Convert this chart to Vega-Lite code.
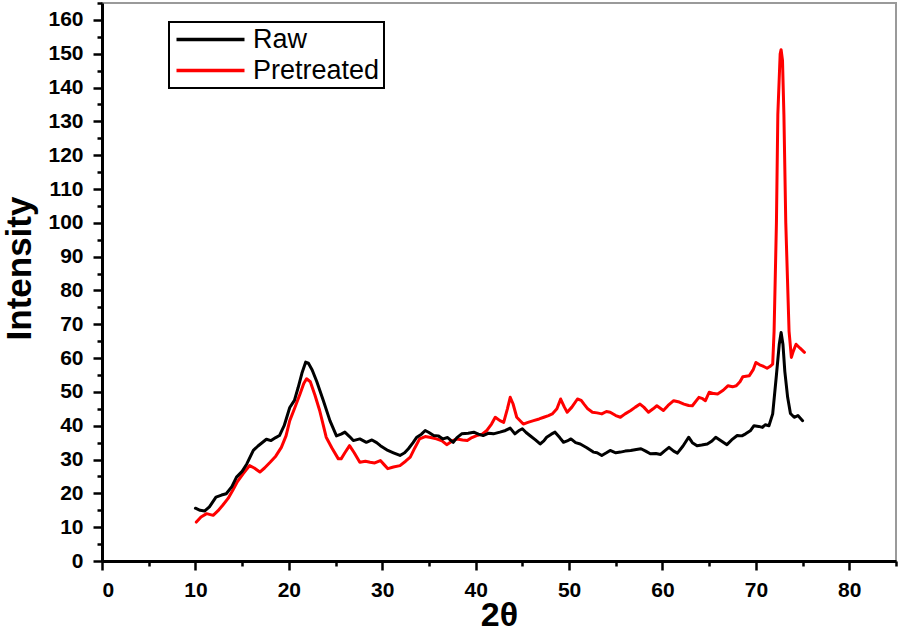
{
  "$schema": "https://vega.github.io/schema/vega-lite/v6.json",
  "width": 794,
  "height": 558,
  "autosize": {"type": "none"},
  "padding": {"left": 102, "top": 3, "right": 3, "bottom": 74},
  "config": {
    "view": {"stroke": "#9a9a9a", "strokeWidth": 2},
    "font": "Liberation Sans",
    "axis": {
      "grid": false,
      "domainColor": "#000000",
      "domainWidth": 3,
      "tickColor": "#000000",
      "tickWidth": 2.5,
      "tickSize": 9,
      "labelFont": "Liberation Sans",
      "labelFontWeight": "bold",
      "labelFontSize": 21,
      "labelColor": "#000000",
      "titleFont": "Liberation Sans",
      "titleFontWeight": "bold",
      "titleColor": "#000000",
      "zindex": 1
    }
  },
  "datasets": {
    "xrd": [
      {"t": 10.1, "i": 11.5, "s": "Pretreated"},
      {"t": 10.6, "i": 13.0, "s": "Pretreated"},
      {"t": 11.2, "i": 14.0, "s": "Pretreated"},
      {"t": 11.9, "i": 13.5, "s": "Pretreated"},
      {"t": 12.4, "i": 14.8, "s": "Pretreated"},
      {"t": 12.9, "i": 16.4, "s": "Pretreated"},
      {"t": 13.5, "i": 18.5, "s": "Pretreated"},
      {"t": 14.0, "i": 20.9, "s": "Pretreated"},
      {"t": 14.5, "i": 23.5, "s": "Pretreated"},
      {"t": 15.1, "i": 25.8, "s": "Pretreated"},
      {"t": 15.8, "i": 28.2, "s": "Pretreated"},
      {"t": 16.3, "i": 27.5, "s": "Pretreated"},
      {"t": 16.9, "i": 26.3, "s": "Pretreated"},
      {"t": 17.4, "i": 27.5, "s": "Pretreated"},
      {"t": 18.0, "i": 29.2, "s": "Pretreated"},
      {"t": 18.6, "i": 31.0, "s": "Pretreated"},
      {"t": 19.2, "i": 33.6, "s": "Pretreated"},
      {"t": 19.7, "i": 37.0, "s": "Pretreated"},
      {"t": 20.1, "i": 41.5, "s": "Pretreated"},
      {"t": 20.6, "i": 45.0, "s": "Pretreated"},
      {"t": 21.2, "i": 49.4, "s": "Pretreated"},
      {"t": 21.6, "i": 52.5, "s": "Pretreated"},
      {"t": 21.9, "i": 53.9, "s": "Pretreated"},
      {"t": 22.3, "i": 53.0, "s": "Pretreated"},
      {"t": 22.8, "i": 49.0, "s": "Pretreated"},
      {"t": 23.3, "i": 44.5, "s": "Pretreated"},
      {"t": 23.7, "i": 40.0, "s": "Pretreated"},
      {"t": 24.0, "i": 36.6, "s": "Pretreated"},
      {"t": 24.6, "i": 33.5, "s": "Pretreated"},
      {"t": 25.3, "i": 30.2, "s": "Pretreated"},
      {"t": 25.6, "i": 30.2, "s": "Pretreated"},
      {"t": 26.0, "i": 32.0, "s": "Pretreated"},
      {"t": 26.5, "i": 34.1, "s": "Pretreated"},
      {"t": 27.0, "i": 32.0, "s": "Pretreated"},
      {"t": 27.6, "i": 29.2, "s": "Pretreated"},
      {"t": 28.2, "i": 29.5, "s": "Pretreated"},
      {"t": 28.7, "i": 29.2, "s": "Pretreated"},
      {"t": 29.2, "i": 29.0, "s": "Pretreated"},
      {"t": 29.8, "i": 29.7, "s": "Pretreated"},
      {"t": 30.2, "i": 28.5, "s": "Pretreated"},
      {"t": 30.6, "i": 27.3, "s": "Pretreated"},
      {"t": 31.2, "i": 27.8, "s": "Pretreated"},
      {"t": 31.9, "i": 28.2, "s": "Pretreated"},
      {"t": 32.5, "i": 29.5, "s": "Pretreated"},
      {"t": 33.0, "i": 30.7, "s": "Pretreated"},
      {"t": 33.5, "i": 33.5, "s": "Pretreated"},
      {"t": 34.0, "i": 36.1, "s": "Pretreated"},
      {"t": 34.6, "i": 36.8, "s": "Pretreated"},
      {"t": 35.2, "i": 36.5, "s": "Pretreated"},
      {"t": 35.8, "i": 36.1, "s": "Pretreated"},
      {"t": 36.4, "i": 35.5, "s": "Pretreated"},
      {"t": 36.9, "i": 34.4, "s": "Pretreated"},
      {"t": 37.5, "i": 35.5, "s": "Pretreated"},
      {"t": 38.0, "i": 36.1, "s": "Pretreated"},
      {"t": 38.6, "i": 35.8, "s": "Pretreated"},
      {"t": 39.1, "i": 35.6, "s": "Pretreated"},
      {"t": 39.6, "i": 36.5, "s": "Pretreated"},
      {"t": 40.1, "i": 37.1, "s": "Pretreated"},
      {"t": 40.7, "i": 37.5, "s": "Pretreated"},
      {"t": 41.2, "i": 38.6, "s": "Pretreated"},
      {"t": 41.7, "i": 40.5, "s": "Pretreated"},
      {"t": 42.1, "i": 42.5, "s": "Pretreated"},
      {"t": 42.6, "i": 41.5, "s": "Pretreated"},
      {"t": 43.0, "i": 41.0, "s": "Pretreated"},
      {"t": 43.4, "i": 45.0, "s": "Pretreated"},
      {"t": 43.7, "i": 48.4, "s": "Pretreated"},
      {"t": 44.0, "i": 46.5, "s": "Pretreated"},
      {"t": 44.4, "i": 42.5, "s": "Pretreated"},
      {"t": 45.1, "i": 40.5, "s": "Pretreated"},
      {"t": 45.6, "i": 41.0, "s": "Pretreated"},
      {"t": 46.2, "i": 41.5, "s": "Pretreated"},
      {"t": 46.8, "i": 42.0, "s": "Pretreated"},
      {"t": 47.3, "i": 42.5, "s": "Pretreated"},
      {"t": 47.8, "i": 43.0, "s": "Pretreated"},
      {"t": 48.2, "i": 43.5, "s": "Pretreated"},
      {"t": 48.7, "i": 45.0, "s": "Pretreated"},
      {"t": 49.1, "i": 47.9, "s": "Pretreated"},
      {"t": 49.5, "i": 45.5, "s": "Pretreated"},
      {"t": 49.8, "i": 44.0, "s": "Pretreated"},
      {"t": 50.3, "i": 45.5, "s": "Pretreated"},
      {"t": 50.9, "i": 47.9, "s": "Pretreated"},
      {"t": 51.3, "i": 47.5, "s": "Pretreated"},
      {"t": 51.6, "i": 46.4, "s": "Pretreated"},
      {"t": 52.0, "i": 45.0, "s": "Pretreated"},
      {"t": 52.5, "i": 44.0, "s": "Pretreated"},
      {"t": 53.0, "i": 43.8, "s": "Pretreated"},
      {"t": 53.5, "i": 43.5, "s": "Pretreated"},
      {"t": 54.0, "i": 44.2, "s": "Pretreated"},
      {"t": 54.4, "i": 44.0, "s": "Pretreated"},
      {"t": 55.0, "i": 43.0, "s": "Pretreated"},
      {"t": 55.5, "i": 42.5, "s": "Pretreated"},
      {"t": 56.0, "i": 43.5, "s": "Pretreated"},
      {"t": 56.6, "i": 44.5, "s": "Pretreated"},
      {"t": 57.1, "i": 45.5, "s": "Pretreated"},
      {"t": 57.6, "i": 46.4, "s": "Pretreated"},
      {"t": 58.0, "i": 45.5, "s": "Pretreated"},
      {"t": 58.5, "i": 44.0, "s": "Pretreated"},
      {"t": 59.0, "i": 45.0, "s": "Pretreated"},
      {"t": 59.4, "i": 45.9, "s": "Pretreated"},
      {"t": 60.1, "i": 44.5, "s": "Pretreated"},
      {"t": 60.6, "i": 46.0, "s": "Pretreated"},
      {"t": 61.2, "i": 47.4, "s": "Pretreated"},
      {"t": 61.8, "i": 47.0, "s": "Pretreated"},
      {"t": 62.3, "i": 46.4, "s": "Pretreated"},
      {"t": 62.8, "i": 46.0, "s": "Pretreated"},
      {"t": 63.2, "i": 45.9, "s": "Pretreated"},
      {"t": 63.9, "i": 48.4, "s": "Pretreated"},
      {"t": 64.3, "i": 48.0, "s": "Pretreated"},
      {"t": 64.6, "i": 47.4, "s": "Pretreated"},
      {"t": 65.0, "i": 49.9, "s": "Pretreated"},
      {"t": 65.5, "i": 49.5, "s": "Pretreated"},
      {"t": 65.9, "i": 49.4, "s": "Pretreated"},
      {"t": 66.5, "i": 50.5, "s": "Pretreated"},
      {"t": 67.0, "i": 51.8, "s": "Pretreated"},
      {"t": 67.5, "i": 51.5, "s": "Pretreated"},
      {"t": 67.9, "i": 51.8, "s": "Pretreated"},
      {"t": 68.3, "i": 53.0, "s": "Pretreated"},
      {"t": 68.6, "i": 54.5, "s": "Pretreated"},
      {"t": 69.3, "i": 54.8, "s": "Pretreated"},
      {"t": 69.7, "i": 56.5, "s": "Pretreated"},
      {"t": 70.0, "i": 58.7, "s": "Pretreated"},
      {"t": 70.4, "i": 58.0, "s": "Pretreated"},
      {"t": 70.7, "i": 57.7, "s": "Pretreated"},
      {"t": 71.2, "i": 57.0, "s": "Pretreated"},
      {"t": 71.5, "i": 57.5, "s": "Pretreated"},
      {"t": 71.8, "i": 58.2, "s": "Pretreated"},
      {"t": 71.95, "i": 68.0, "s": "Pretreated"},
      {"t": 72.2, "i": 100.0, "s": "Pretreated"},
      {"t": 72.35, "i": 132.0, "s": "Pretreated"},
      {"t": 72.6, "i": 150.0, "s": "Pretreated"},
      {"t": 72.7, "i": 151.2, "s": "Pretreated"},
      {"t": 72.85, "i": 148.0, "s": "Pretreated"},
      {"t": 73.0, "i": 132.0, "s": "Pretreated"},
      {"t": 73.2, "i": 100.0, "s": "Pretreated"},
      {"t": 73.55, "i": 68.0, "s": "Pretreated"},
      {"t": 73.8, "i": 60.2, "s": "Pretreated"},
      {"t": 74.0, "i": 62.0, "s": "Pretreated"},
      {"t": 74.3, "i": 64.1, "s": "Pretreated"},
      {"t": 74.7, "i": 63.0, "s": "Pretreated"},
      {"t": 75.2, "i": 61.7, "s": "Pretreated"},
      {"t": 10.0, "i": 15.6, "s": "Raw"},
      {"t": 10.5, "i": 15.0, "s": "Raw"},
      {"t": 11.0, "i": 14.8, "s": "Raw"},
      {"t": 11.5, "i": 16.0, "s": "Raw"},
      {"t": 12.2, "i": 18.9, "s": "Raw"},
      {"t": 12.8, "i": 19.5, "s": "Raw"},
      {"t": 13.3, "i": 19.9, "s": "Raw"},
      {"t": 13.9, "i": 22.0, "s": "Raw"},
      {"t": 14.4, "i": 24.8, "s": "Raw"},
      {"t": 15.0, "i": 26.5, "s": "Raw"},
      {"t": 15.5, "i": 28.7, "s": "Raw"},
      {"t": 16.2, "i": 32.7, "s": "Raw"},
      {"t": 16.7, "i": 34.0, "s": "Raw"},
      {"t": 17.2, "i": 35.1, "s": "Raw"},
      {"t": 17.6, "i": 36.0, "s": "Raw"},
      {"t": 18.1, "i": 35.6, "s": "Raw"},
      {"t": 18.6, "i": 36.5, "s": "Raw"},
      {"t": 19.0, "i": 37.1, "s": "Raw"},
      {"t": 19.5, "i": 40.0, "s": "Raw"},
      {"t": 20.1, "i": 45.4, "s": "Raw"},
      {"t": 20.6, "i": 47.5, "s": "Raw"},
      {"t": 21.0, "i": 51.3, "s": "Raw"},
      {"t": 21.4, "i": 55.5, "s": "Raw"},
      {"t": 21.8, "i": 58.8, "s": "Raw"},
      {"t": 22.1, "i": 58.5, "s": "Raw"},
      {"t": 22.5, "i": 56.5, "s": "Raw"},
      {"t": 23.0, "i": 53.0, "s": "Raw"},
      {"t": 23.7, "i": 47.4, "s": "Raw"},
      {"t": 24.4, "i": 41.5, "s": "Raw"},
      {"t": 25.1, "i": 37.0, "s": "Raw"},
      {"t": 25.6, "i": 37.5, "s": "Raw"},
      {"t": 26.0, "i": 38.1, "s": "Raw"},
      {"t": 26.5, "i": 36.8, "s": "Raw"},
      {"t": 26.9, "i": 35.6, "s": "Raw"},
      {"t": 27.6, "i": 36.1, "s": "Raw"},
      {"t": 28.3, "i": 35.1, "s": "Raw"},
      {"t": 28.9, "i": 35.8, "s": "Raw"},
      {"t": 29.4, "i": 35.0, "s": "Raw"},
      {"t": 29.8, "i": 34.1, "s": "Raw"},
      {"t": 30.6, "i": 32.7, "s": "Raw"},
      {"t": 31.2, "i": 32.0, "s": "Raw"},
      {"t": 31.9, "i": 31.2, "s": "Raw"},
      {"t": 32.4, "i": 32.0, "s": "Raw"},
      {"t": 32.8, "i": 33.2, "s": "Raw"},
      {"t": 33.3, "i": 35.0, "s": "Raw"},
      {"t": 33.7, "i": 36.6, "s": "Raw"},
      {"t": 34.2, "i": 37.5, "s": "Raw"},
      {"t": 34.6, "i": 38.6, "s": "Raw"},
      {"t": 35.0, "i": 38.0, "s": "Raw"},
      {"t": 35.5, "i": 37.1, "s": "Raw"},
      {"t": 36.0, "i": 37.0, "s": "Raw"},
      {"t": 36.5, "i": 36.1, "s": "Raw"},
      {"t": 37.0, "i": 36.5, "s": "Raw"},
      {"t": 37.6, "i": 35.1, "s": "Raw"},
      {"t": 38.0, "i": 36.5, "s": "Raw"},
      {"t": 38.5, "i": 37.6, "s": "Raw"},
      {"t": 39.2, "i": 37.8, "s": "Raw"},
      {"t": 39.8, "i": 38.1, "s": "Raw"},
      {"t": 40.3, "i": 37.5, "s": "Raw"},
      {"t": 40.8, "i": 37.1, "s": "Raw"},
      {"t": 41.4, "i": 37.8, "s": "Raw"},
      {"t": 41.9, "i": 37.6, "s": "Raw"},
      {"t": 42.6, "i": 38.1, "s": "Raw"},
      {"t": 43.2, "i": 38.6, "s": "Raw"},
      {"t": 43.7, "i": 39.3, "s": "Raw"},
      {"t": 44.2, "i": 37.6, "s": "Raw"},
      {"t": 44.6, "i": 38.5, "s": "Raw"},
      {"t": 45.0, "i": 39.1, "s": "Raw"},
      {"t": 45.4, "i": 38.0, "s": "Raw"},
      {"t": 45.8, "i": 37.1, "s": "Raw"},
      {"t": 46.4, "i": 35.8, "s": "Raw"},
      {"t": 46.9, "i": 34.6, "s": "Raw"},
      {"t": 47.3, "i": 35.5, "s": "Raw"},
      {"t": 47.6, "i": 36.6, "s": "Raw"},
      {"t": 48.1, "i": 37.5, "s": "Raw"},
      {"t": 48.5, "i": 38.1, "s": "Raw"},
      {"t": 49.0, "i": 36.5, "s": "Raw"},
      {"t": 49.4, "i": 35.1, "s": "Raw"},
      {"t": 49.8, "i": 35.5, "s": "Raw"},
      {"t": 50.2, "i": 36.1, "s": "Raw"},
      {"t": 50.7, "i": 35.0, "s": "Raw"},
      {"t": 51.2, "i": 34.6, "s": "Raw"},
      {"t": 51.9, "i": 33.5, "s": "Raw"},
      {"t": 52.6, "i": 32.2, "s": "Raw"},
      {"t": 53.0, "i": 32.0, "s": "Raw"},
      {"t": 53.5, "i": 31.2, "s": "Raw"},
      {"t": 54.0, "i": 32.0, "s": "Raw"},
      {"t": 54.4, "i": 32.7, "s": "Raw"},
      {"t": 55.0, "i": 32.0, "s": "Raw"},
      {"t": 55.5, "i": 32.2, "s": "Raw"},
      {"t": 56.0, "i": 32.5, "s": "Raw"},
      {"t": 56.6, "i": 32.7, "s": "Raw"},
      {"t": 57.2, "i": 33.0, "s": "Raw"},
      {"t": 57.7, "i": 33.2, "s": "Raw"},
      {"t": 58.2, "i": 32.5, "s": "Raw"},
      {"t": 58.7, "i": 31.7, "s": "Raw"},
      {"t": 59.3, "i": 31.8, "s": "Raw"},
      {"t": 59.8, "i": 31.5, "s": "Raw"},
      {"t": 60.2, "i": 32.5, "s": "Raw"},
      {"t": 60.7, "i": 33.6, "s": "Raw"},
      {"t": 61.2, "i": 32.5, "s": "Raw"},
      {"t": 61.6, "i": 31.9, "s": "Raw"},
      {"t": 62.2, "i": 34.0, "s": "Raw"},
      {"t": 62.8, "i": 36.6, "s": "Raw"},
      {"t": 63.2, "i": 35.0, "s": "Raw"},
      {"t": 63.7, "i": 34.1, "s": "Raw"},
      {"t": 64.2, "i": 34.3, "s": "Raw"},
      {"t": 64.8, "i": 34.6, "s": "Raw"},
      {"t": 65.3, "i": 35.5, "s": "Raw"},
      {"t": 65.7, "i": 36.6, "s": "Raw"},
      {"t": 66.3, "i": 35.5, "s": "Raw"},
      {"t": 66.9, "i": 34.4, "s": "Raw"},
      {"t": 67.4, "i": 35.8, "s": "Raw"},
      {"t": 68.0, "i": 37.1, "s": "Raw"},
      {"t": 68.5, "i": 37.0, "s": "Raw"},
      {"t": 68.9, "i": 37.6, "s": "Raw"},
      {"t": 69.4, "i": 38.5, "s": "Raw"},
      {"t": 69.8, "i": 40.0, "s": "Raw"},
      {"t": 70.3, "i": 39.8, "s": "Raw"},
      {"t": 70.7, "i": 39.5, "s": "Raw"},
      {"t": 71.0, "i": 40.3, "s": "Raw"},
      {"t": 71.4, "i": 40.0, "s": "Raw"},
      {"t": 71.8, "i": 43.5, "s": "Raw"},
      {"t": 72.2, "i": 55.0, "s": "Raw"},
      {"t": 72.5, "i": 64.0, "s": "Raw"},
      {"t": 72.7, "i": 67.6, "s": "Raw"},
      {"t": 72.9, "i": 64.0, "s": "Raw"},
      {"t": 73.1, "i": 56.0, "s": "Raw"},
      {"t": 73.4, "i": 48.4, "s": "Raw"},
      {"t": 73.7, "i": 43.6, "s": "Raw"},
      {"t": 74.1, "i": 42.5, "s": "Raw"},
      {"t": 74.5, "i": 43.0, "s": "Raw"},
      {"t": 75.0, "i": 41.5, "s": "Raw"}
    ]
  },
  "layer": [
    {
      "data": {"name": "xrd"},
      "mark": {"type": "line", "opacity": 0},
      "encoding": {
        "x": {
          "field": "t",
          "type": "quantitative",
          "axis": {
            "orient": "bottom",
            "values": [5, 15, 25, 35, 45, 55, 65, 75, 85],
            "labels": false,
            "domain": false,
            "tickSize": 5,
            "title": null
          }
        },
        "y": {
          "field": "i",
          "type": "quantitative",
          "axis": {
            "orient": "left",
            "values": [5, 15, 25, 35, 45, 55, 65, 75, 85, 95, 105, 115, 125, 135, 145, 155, 165],
            "labels": false,
            "domain": false,
            "tickSize": 5,
            "title": null
          }
        },
        "detail": {"field": "s"}
      }
    },
    {
      "data": {"name": "xrd"},
      "mark": {"type": "line", "strokeWidth": 3, "strokeJoin": "round", "strokeCap": "round"},
      "encoding": {
        "x": {
          "field": "t",
          "type": "quantitative",
          "scale": {"domain": [0, 85], "nice": false, "zero": false},
          "axis": {
            "orient": "bottom",
            "values": [0, 10, 20, 30, 40, 50, 60, 70, 80],
            "labelPadding": 9,
            "title": "2θ",
            "titleFontSize": 34,
            "titleBaseline": "alphabetic",
            "titleY": 64
          }
        },
        "y": {
          "field": "i",
          "type": "quantitative",
          "scale": {"domain": [0, 165], "nice": false},
          "axis": {
            "orient": "left",
            "values": [0, 10, 20, 30, 40, 50, 60, 70, 80, 90, 100, 110, 120, 130, 140, 150, 160],
            "labelPadding": 10,
            "title": "Intensity",
            "titleFontSize": 35,
            "titleBaseline": "alphabetic",
            "titleX": -72,
            "titleY": 265
          }
        },
        "color": {
          "field": "s",
          "type": "nominal",
          "scale": {"domain": ["Raw", "Pretreated"], "range": ["#000000", "#ff0000"]},
          "legend": {
            "title": null,
            "orient": "none",
            "legendX": 67,
            "legendY": 19,
            "padding": 4,
            "rowPadding": 3,
            "strokeColor": "#000000",
            "symbolType": "M-1,0H5.8",
            "symbolSize": 400,
            "symbolStrokeWidth": 3.5,
            "labelOffset": 53,
            "labelFont": "Liberation Sans",
            "labelFontSize": 27,
            "labelColor": "#000000",
            "labelLimit": 300,
            "encode": {"legend": {"update": {"strokeWidth": {"value": 2}}}}
          }
        }
      }
    }
  ],
  "resolve": {"axis": {"x": "independent", "y": "independent"}}
}
